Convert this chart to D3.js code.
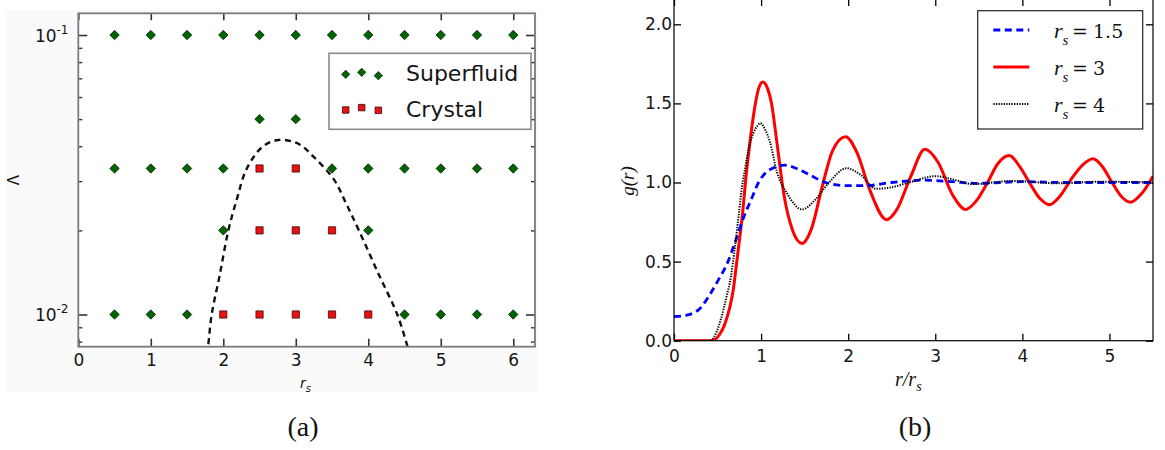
<!DOCTYPE html>
<html lang="en">
<head>
<meta charset="UTF-8">
<title>Phase diagram and g(r)</title>
<script src="https://d3js.org/d3.v7.min.js"></script>
<style>
  body { margin: 0; background: #fff; }
  svg { display: block; }
  .tick text { font-family: "DejaVu Sans", sans-serif; font-size: 17px; fill: #151515; }
  .cap { font-family: "Liberation Serif", serif; font-size: 28px; fill: #111; }
  .math { font-family: "Liberation Serif", serif; font-style: italic; fill: #111; }
</style>
</head>
<body>
<svg width="1165" height="450"></svg>
<script>
// ---- panel (a): phase diagram ----
const lambdaRows = [0.1, 0.05, 0.0333, 0.02, 0.01];
const superfluidRs = [
  [0.5, 1, 1.5, 2, 2.5, 3, 3.5, 4, 4.5, 5, 5.5, 6],
  [2.5, 3],
  [0.5, 1, 1.5, 2, 3.5, 4, 4.5, 5, 5.5, 6],
  [2, 4],
  [0.5, 1, 1.5, 4.5, 5, 5.5, 6]
];
const crystalRs = [[], [], [2.5, 3], [2.5, 3, 3.5], [2, 2.5, 3, 3.5, 4]];
const boundaryRs = [1.77, 1.79, 1.84, 1.95, 2.07, 2.19, 2.32, 2.54, 2.76, 3.03, 3.25, 3.53, 3.69, 3.87, 4.14, 4.40, 4.54, 4.57];
const boundaryLambda = [0.0072, 0.0077, 0.01, 0.0138, 0.02, 0.026, 0.0331, 0.0398, 0.0421, 0.0409, 0.0366, 0.0303, 0.0251, 0.02, 0.014, 0.01, 0.0077, 0.0072];
const aTicksX = [0, 1, 2, 3, 4, 5, 6];
const aTicksYMajor = [0.1, 0.01];
const aTicksYMinor = [0.008, 0.009, 0.02, 0.03, 0.04, 0.05, 0.06, 0.07, 0.08, 0.09];

// ---- panel (b): pair correlation ----
const r15 = [0, 0.15, 0.30, 0.41, 0.50, 0.62, 0.70, 0.80, 0.90, 0.97, 1.05, 1.15, 1.27, 1.40, 1.55, 1.74, 1.97, 2.2, 2.5, 2.88, 3.19, 3.5, 4.0, 4.5, 5.0, 5.5];
const g15 = [0.152, 0.162, 0.205, 0.29, 0.375, 0.50, 0.62, 0.78, 0.91, 1.0, 1.06, 1.095, 1.11, 1.09, 1.05, 1.0, 0.98, 0.98, 1.0, 1.015, 1.005, 0.995, 1.005, 1.0, 1.0, 1.0];
const r3 = [0, 0.2, 0.42, 0.47, 0.52, 0.58, 0.64, 0.68, 0.71, 0.75, 0.79, 0.82, 0.86, 0.92, 0.97, 1.02, 1.07, 1.12, 1.18, 1.26, 1.36, 1.47, 1.58, 1.70, 1.82, 1.97, 2.10, 2.25, 2.44, 2.56, 2.72, 2.88, 3.03, 3.20, 3.35, 3.48, 3.60, 3.72, 3.85, 3.97, 4.08, 4.20, 4.31, 4.44, 4.56, 4.69, 4.81, 4.92, 5.03, 5.14, 5.24, 5.37, 5.5];
const g3 = [0, 0, 0, 0.008, 0.036, 0.10, 0.21, 0.32, 0.45, 0.63, 0.82, 1.0, 1.2, 1.45, 1.59, 1.635, 1.60, 1.5, 1.26, 0.93, 0.70, 0.615, 0.71, 0.97, 1.2, 1.29, 1.19, 0.95, 0.765, 0.83, 1.04, 1.21, 1.13, 0.92, 0.83, 0.89, 1.0, 1.12, 1.17, 1.1, 1.0, 0.9, 0.86, 0.92, 1.02, 1.11, 1.15, 1.1, 1.0, 0.91, 0.875, 0.93, 1.04];
const r4 = [0, 0.2, 0.40, 0.43, 0.49, 0.54, 0.60, 0.655, 0.69, 0.74, 0.78, 0.82, 0.86, 0.91, 0.96, 0.99, 1.05, 1.10, 1.18, 1.30, 1.47, 1.62, 1.78, 1.98, 2.14, 2.32, 2.50, 2.70, 3.0, 3.2, 3.43, 3.9, 4.4, 4.9, 5.5];
const g4 = [0, 0, 0, 0.004, 0.057, 0.14, 0.27, 0.41, 0.55, 0.78, 0.97, 1.1, 1.22, 1.31, 1.36, 1.375, 1.33, 1.26, 1.07, 0.93, 0.83, 0.89, 1.0, 1.09, 1.05, 0.96, 0.97, 1.0, 1.04, 1.02, 0.99, 1.01, 0.995, 1.005, 1.0];
const bTicksX = [0, 1, 2, 3, 4, 5];
const bTicksY = [0, 0.5, 1.0, 1.5, 2.0];

const svg = d3.select("svg");

// ================= (a) =================
const xA = d3.scaleLinear().domain([0, 6.3]).range([78.3, 535]);
const yA = d3.scaleLog().domain([0.00767, 0.1196]).range([346.7, 13.3]);
const gA = svg.append("g");

gA.append("rect").attr("x", 5).attr("y", 10).attr("width", 532).attr("height", 382).attr("fill", "#fafafa");
gA.append("rect").attr("x", 78.3).attr("y", 13.3).attr("width", 535 - 78.3).attr("height", 346.7 - 13.3).attr("fill", "#fff");

gA.append("clipPath").attr("id", "clipA").append("rect")
  .attr("x", 78.3).attr("y", 13.3).attr("width", 535 - 78.3).attr("height", 346.7 - 13.3);

function styleAxis(g, color, width) {
  g.select(".domain").remove();
  g.selectAll(".tick line").attr("stroke", color).attr("stroke-width", width);
}

// ticks (inward, matplotlib style)
gA.append("g").attr("transform", "translate(0,346.7)")
  .call(d3.axisBottom(xA).tickValues(aTicksX).tickSize(-8).tickPadding(7).tickFormat(d3.format("d")))
  .call(g => styleAxis(g, "#333", 1.6));
gA.append("g").attr("transform", "translate(0,13.3)")
  .call(d3.axisTop(xA).tickValues(aTicksX).tickSize(-7).tickFormat(""))
  .call(g => styleAxis(g, "#333", 1.6));
gA.append("g").attr("transform", "translate(78.3,0)")
  .call(d3.axisLeft(yA).tickValues(aTicksYMajor).tickSize(-9).tickFormat(""))
  .call(g => styleAxis(g, "#333", 1.6));
gA.append("g").attr("transform", "translate(78.3,0)")
  .call(d3.axisLeft(yA).tickValues(aTicksYMinor).tickSize(-4).tickFormat(""))
  .call(g => styleAxis(g, "#333", 1.4));
gA.append("g").attr("transform", "translate(535,0)")
  .call(d3.axisRight(yA).tickValues(aTicksYMajor).tickSize(-9).tickFormat(""))
  .call(g => styleAxis(g, "#333", 1.6));
gA.append("g").attr("transform", "translate(535,0)")
  .call(d3.axisRight(yA).tickValues(aTicksYMinor).tickSize(-4).tickFormat(""))
  .call(g => styleAxis(g, "#333", 1.4));

// log tick labels 10^-1, 10^-2
aTicksYMajor.forEach(v => {
  const t = gA.append("text")
    .attr("x", 68.5).attr("y", yA(v) + 6.5)
    .attr("text-anchor", "end")
    .attr("font-family", "DejaVu Sans, sans-serif")
    .attr("font-size", 17).attr("fill", "#151515");
  t.append("tspan").text("10");
  t.append("tspan").attr("font-size", 12).attr("dy", -8).text(String(Math.round(Math.log10(v))));
});

// boundary curve
gA.append("path")
  .attr("clip-path", "url(#clipA)")
  .attr("d", d3.line().curve(d3.curveCatmullRom)
    .x((d, i) => xA(boundaryRs[i])).y((d, i) => yA(boundaryLambda[i]))(boundaryRs))
  .attr("fill", "none").attr("stroke", "#111").attr("stroke-width", 2.4)
  .attr("stroke-dasharray", "6,4.5");

const diamond = s => d3.symbol().type(d3.symbolSquare).size(s)();
const square = s => d3.symbol().type(d3.symbolSquare).size(s)();

lambdaRows.forEach((lam, i) => {
  gA.selectAll(null).data(superfluidRs[i]).join("path")
    .attr("d", diamond(44))
    .attr("transform", d => `translate(${xA(d)},${yA(lam)}) rotate(45)`)
    .attr("fill", "#006400").attr("stroke", "#0b2a0b").attr("stroke-width", 0.8);
  gA.selectAll(null).data(crystalRs[i]).join("path")
    .attr("d", square(52))
    .attr("transform", d => `translate(${xA(d)},${yA(lam)})`)
    .attr("fill", "#ee1010").attr("stroke", "#3a0b0b").attr("stroke-width", 0.8);
});

// frame
gA.append("rect").attr("x", 78.3).attr("y", 13.3).attr("width", 535 - 78.3).attr("height", 346.7 - 13.3)
  .attr("fill", "none").attr("stroke", "#7a7a7a").attr("stroke-width", 1.8);

// legend (a)
gA.append("rect").attr("x", 329).attr("y", 53.3).attr("width", 202).attr("height", 76)
  .attr("fill", "#fff").attr("stroke", "#8a8a8a").attr("stroke-width", 1.6);
const legX = [345.7, 361.7, 378.3];
const legYSf = [74.3, 72.3, 75.7];
const legYCr = [110, 107.6, 110.3];
legX.forEach((x, i) => {
  gA.append("path").attr("d", diamond(34)).attr("transform", `translate(${x},${legYSf[i]}) rotate(45)`)
    .attr("fill", "#006400").attr("stroke", "#0b2a0b").attr("stroke-width", 0.8);
  gA.append("path").attr("d", square(42)).attr("transform", `translate(${x},${legYCr[i]})`)
    .attr("fill", "#ee1010").attr("stroke", "#3a0b0b").attr("stroke-width", 0.8);
});
gA.append("text").attr("x", 406).attr("y", 81).attr("font-family", "DejaVu Sans, sans-serif")
  .attr("font-size", 22).attr("fill", "#151515").text("Superfluid");
gA.append("text").attr("x", 406).attr("y", 116.7).attr("font-family", "DejaVu Sans, sans-serif")
  .attr("font-size", 22).attr("fill", "#151515").text("Crystal");

// axis labels (a)
gA.append("text").attr("transform", "translate(19,180) rotate(-90)")
  .attr("text-anchor", "middle").attr("font-family", "DejaVu Sans, sans-serif")
  .attr("font-size", 15).attr("fill", "#151515").text("Λ");
const xlA = gA.append("text").attr("x", 300).attr("y", 388)
  .attr("font-family", "DejaVu Sans, sans-serif").attr("font-style", "italic")
  .attr("font-size", 14).attr("fill", "#151515");
xlA.append("tspan").text("r");
xlA.append("tspan").attr("font-size", 10).attr("dy", 4).text("s");

svg.append("text").attr("class", "cap").attr("x", 303).attr("y", 436).attr("text-anchor", "middle").text("(a)");

// ================= (b) =================
const xB = d3.scaleLinear().domain([0, 5.5]).range([674, 1153]);
const yB = d3.scaleLinear().domain([0, 2.16]).range([340.7, -1]);
const gB = svg.append("g");

gB.append("clipPath").attr("id", "clipB").append("rect")
  .attr("x", 674).attr("y", -1).attr("width", 1153 - 674).attr("height", 341.7);

gB.append("g").attr("transform", "translate(0,340.7)")
  .call(d3.axisBottom(xB).tickValues(bTicksX).tickSize(-7).tickPadding(9).tickFormat(d3.format("d")))
  .call(g => styleAxis(g, "#000", 1.3));
gB.append("g").attr("transform", "translate(0,-1)")
  .call(d3.axisTop(xB).tickValues(bTicksX).tickSize(-7).tickFormat(""))
  .call(g => styleAxis(g, "#000", 1.3));
gB.append("g").attr("transform", "translate(674,0)")
  .call(d3.axisLeft(yB).tickValues(bTicksY).tickSize(-7).tickPadding(2).tickFormat(d3.format(".1f")))
  .call(g => styleAxis(g, "#000", 1.3));
gB.append("g").attr("transform", "translate(1153,0)")
  .call(d3.axisRight(yB).tickValues(bTicksY).tickSize(-7).tickFormat(""))
  .call(g => styleAxis(g, "#000", 1.3));

const series = [
  { r: r15, g: g15, color: "#0000ff", width: 2.8, dash: "7,4.5" },
  { r: r3, g: g3, color: "#ff0000", width: 3, dash: null },
  { r: r4, g: g4, color: "#000", width: 2, dash: "1.3,1.3" }
];
const drawOrder = [1, 0, 2];
drawOrder.forEach(k => {
  const s = series[k];
  gB.append("path")
    .attr("clip-path", "url(#clipB)")
    .attr("d", d3.line().curve(d3.curveMonotoneX)
      .x((d, i) => xB(s.r[i])).y((d, i) => yB(s.g[i]))(s.r))
    .attr("fill", "none").attr("stroke", s.color).attr("stroke-width", s.width)
    .attr("stroke-dasharray", s.dash);
});

gB.append("rect").attr("x", 674).attr("y", -1).attr("width", 1153 - 674).attr("height", 341.7)
  .attr("fill", "none").attr("stroke", "#000").attr("stroke-width", 1.2);

// legend (b)
gB.append("rect").attr("x", 977.7).attr("y", 10.7).attr("width", 165).attr("height", 118.3)
  .attr("fill", "#fff").attr("stroke", "#222").attr("stroke-width", 1.2);
const legLabels = ["1.5", "3", "4"];
const legRowY = [30, 67, 104];
series.forEach((s, i) => {
  gB.append("line").attr("x1", 993.3).attr("x2", 1029.3).attr("y1", legRowY[i]).attr("y2", legRowY[i])
    .attr("stroke", s.color).attr("stroke-width", s.width).attr("stroke-dasharray", s.dash);
  const base = legRowY[i] + 7.5;
  const t = gB.append("text").attr("class", "math").attr("x", 1054).attr("y", base).attr("font-size", 22);
  t.append("tspan").text("r");
  t.append("tspan").attr("font-size", 15).attr("dy", 7).text("s");
  const u = gB.append("text").attr("x", 1072).attr("y", base)
    .attr("font-family", "DejaVu Serif, serif").attr("font-size", 19).attr("fill", "#111");
  u.append("tspan").text("=");
  u.append("tspan").attr("x", 1093).text(legLabels[i]);
});

// axis labels (b)
const ylB = gB.append("text").attr("class", "math").attr("transform", "translate(634,181) rotate(-90)")
  .attr("text-anchor", "middle").attr("font-size", 19);
ylB.append("tspan").text("g(r)");
const xlB = gB.append("text").attr("class", "math").attr("x", 895).attr("y", 386).attr("font-size", 20);
xlB.append("tspan").text("r/r");
xlB.append("tspan").attr("font-size", 14).attr("dy", 5).text("s");

svg.append("text").attr("class", "cap").attr("x", 915).attr("y", 436).attr("text-anchor", "middle").text("(b)");
</script>
</body>
</html>
